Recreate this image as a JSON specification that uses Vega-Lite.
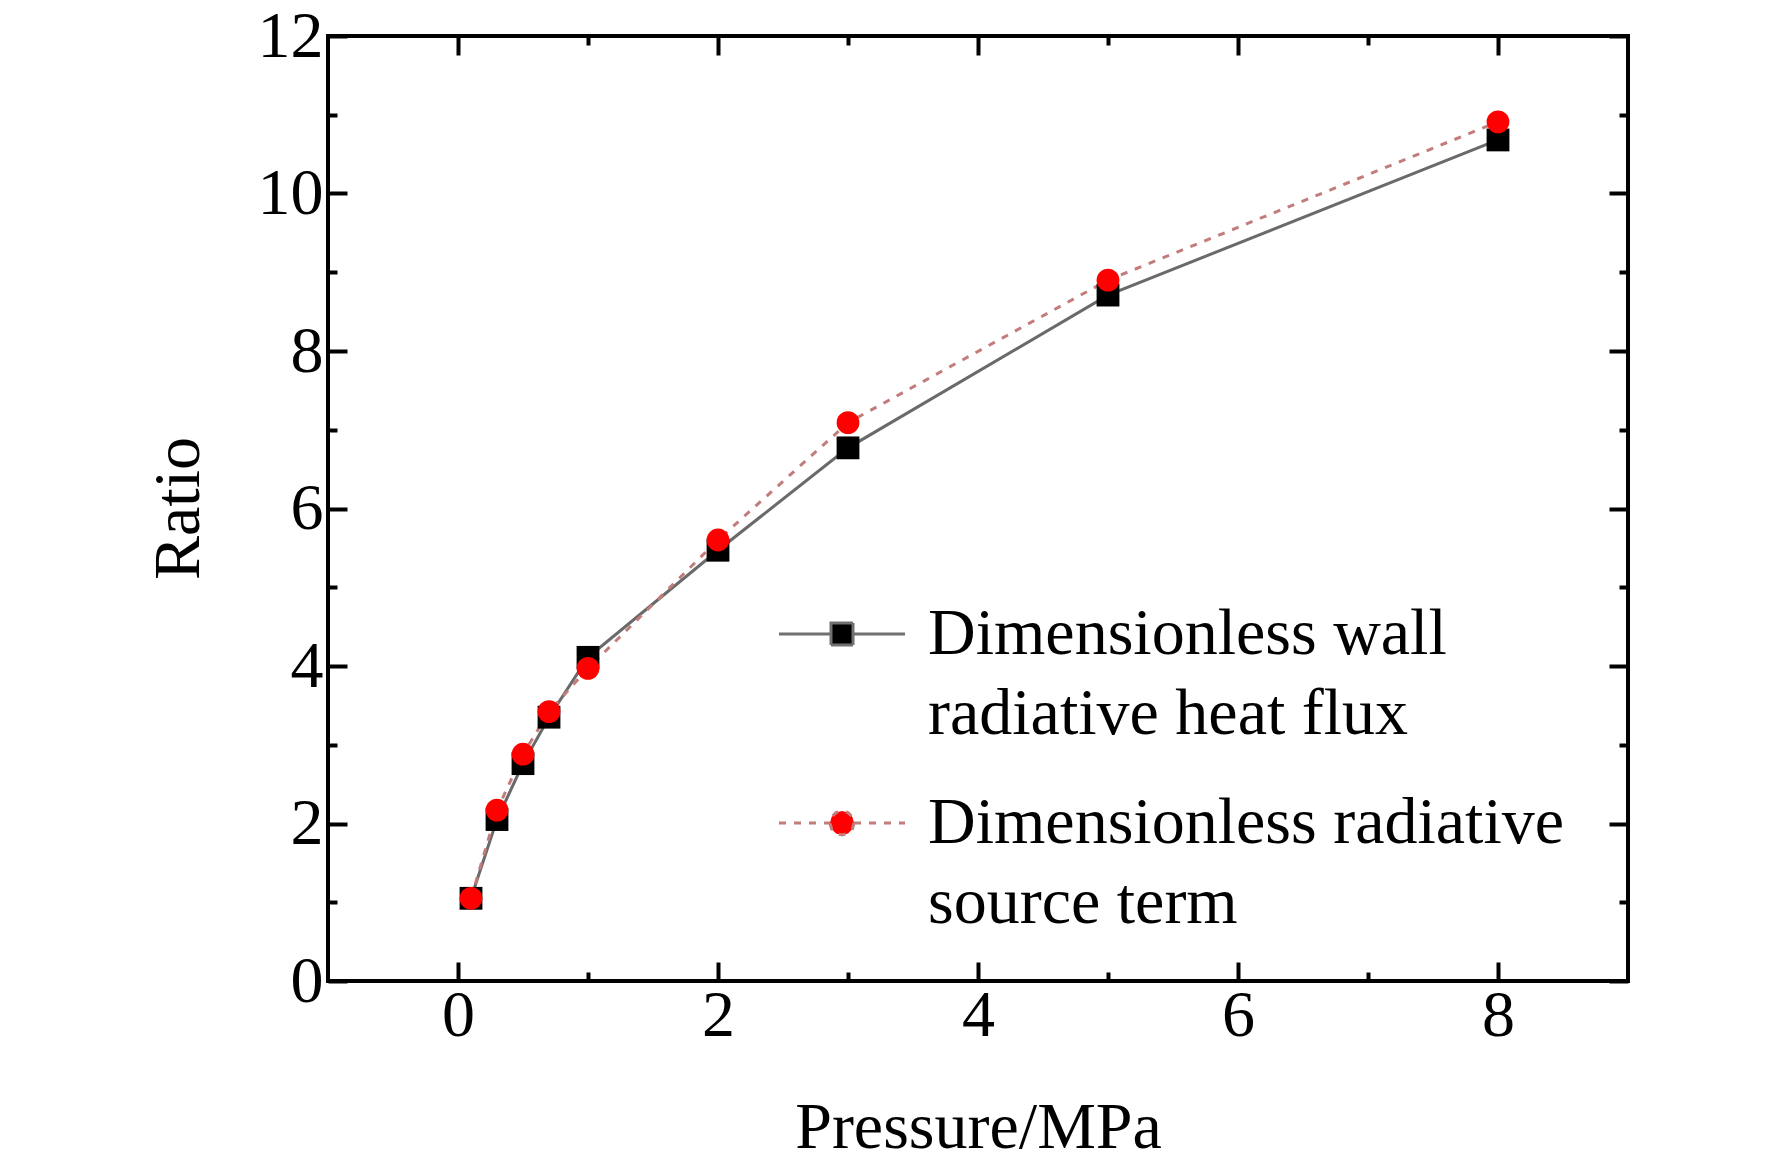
{
  "$schema": "https://vega.github.io/schema/vega-lite/v6.json",
  "width": 1300,
  "height": 945,
  "autosize": "none",
  "padding": {"left": 328, "top": 36, "right": 144, "bottom": 187},
  "background": "white",
  "data": {
    "values": [
      {"pressure": 0.1, "ratio": 1.05, "series": "Dimensionless wall radiative heat flux"},
      {"pressure": 0.3, "ratio": 2.05, "series": "Dimensionless wall radiative heat flux"},
      {"pressure": 0.5, "ratio": 2.76, "series": "Dimensionless wall radiative heat flux"},
      {"pressure": 0.7, "ratio": 3.35, "series": "Dimensionless wall radiative heat flux"},
      {"pressure": 1, "ratio": 4.11, "series": "Dimensionless wall radiative heat flux"},
      {"pressure": 2, "ratio": 5.47, "series": "Dimensionless wall radiative heat flux"},
      {"pressure": 3, "ratio": 6.77, "series": "Dimensionless wall radiative heat flux"},
      {"pressure": 5, "ratio": 8.71, "series": "Dimensionless wall radiative heat flux"},
      {"pressure": 8, "ratio": 10.68, "series": "Dimensionless wall radiative heat flux"},
      {"pressure": 0.1, "ratio": 1.05, "series": "Dimensionless radiative source term"},
      {"pressure": 0.3, "ratio": 2.17, "series": "Dimensionless radiative source term"},
      {"pressure": 0.5, "ratio": 2.88, "series": "Dimensionless radiative source term"},
      {"pressure": 0.7, "ratio": 3.42, "series": "Dimensionless radiative source term"},
      {"pressure": 1, "ratio": 3.97, "series": "Dimensionless radiative source term"},
      {"pressure": 2, "ratio": 5.6, "series": "Dimensionless radiative source term"},
      {"pressure": 3, "ratio": 7.09, "series": "Dimensionless radiative source term"},
      {"pressure": 5, "ratio": 8.9, "series": "Dimensionless radiative source term"},
      {"pressure": 8, "ratio": 10.91, "series": "Dimensionless radiative source term"}
    ]
  },
  "layer": [
    {
      "transform": [{"filter": "datum.series == 'Dimensionless wall radiative heat flux'"}],
      "mark": {"type": "line", "strokeWidth": 3, "color": "#6a6a6a"},
      "encoding": {
        "x": {
          "field": "pressure", "type": "quantitative",
          "scale": {"domain": [-1, 9], "nice": false, "zero": false},
          "axis": {
            "orient": "bottom", "values": [0, 2, 4, 6, 8], "tickSize": -19,
            "title": "Pressure/MPa", "titleX": 650, "titleY": 166, "titleBaseline": "alphabetic"
          }
        },
        "y": {
          "field": "ratio", "type": "quantitative",
          "scale": {"domain": [0, 12], "nice": false},
          "axis": {
            "orient": "left", "values": [0, 2, 4, 6, 8, 10, 12], "tickSize": -19,
            "title": "Ratio", "titleX": -130, "titleY": 472, "titleAngle": -90,
            "titleAlign": "center", "titleBaseline": "alphabetic"
          }
        }
      }
    },
    {
      "transform": [{"filter": "datum.series == 'Dimensionless radiative source term'"}],
      "mark": {"type": "line", "strokeWidth": 3, "color": "#c27c7c", "strokeDash": [7, 8]},
      "encoding": {
        "x": {
          "field": "pressure", "type": "quantitative",
          "axis": {"orient": "top", "values": [0, 2, 4, 6, 8], "tickSize": -19, "labels": false, "title": null}
        },
        "y": {
          "field": "ratio", "type": "quantitative",
          "axis": {"orient": "right", "values": [0, 2, 4, 6, 8, 10, 12], "tickSize": -19, "labels": false, "title": null}
        }
      }
    },
    {
      "mark": {"type": "point", "filled": true, "opacity": 1, "size": 520},
      "encoding": {
        "x": {
          "field": "pressure", "type": "quantitative",
          "axis": {"orient": "bottom", "values": [1, 3, 5, 7], "tickSize": -9, "labels": false, "title": null}
        },
        "y": {
          "field": "ratio", "type": "quantitative",
          "axis": {"orient": "left", "values": [1, 3, 5, 7, 9, 11], "tickSize": -9, "labels": false, "title": null}
        },
        "shape": {
          "field": "series", "type": "nominal", "legend": null,
          "scale": {
            "domain": ["Dimensionless wall radiative heat flux", "Dimensionless radiative source term"],
            "range": ["square", "circle"]
          }
        },
        "color": {
          "field": "series", "type": "nominal", "legend": null,
          "scale": {
            "domain": ["Dimensionless wall radiative heat flux", "Dimensionless radiative source term"],
            "range": ["#000000", "#ff0000"]
          }
        }
      }
    },
    {
      "mark": {"type": "point", "opacity": 0},
      "encoding": {
        "x": {
          "field": "pressure", "type": "quantitative",
          "axis": {"orient": "top", "values": [1, 3, 5, 7], "tickSize": -9, "labels": false, "title": null}
        },
        "y": {
          "field": "ratio", "type": "quantitative",
          "axis": {"orient": "right", "values": [1, 3, 5, 7, 9, 11], "tickSize": -9, "labels": false, "title": null}
        }
      }
    },
    {
      "mark": {"type": "point", "filled": true, "opacity": 0, "strokeWidth": 3},
      "encoding": {
        "x": {"field": "pressure", "type": "quantitative", "axis": null},
        "y": {"field": "ratio", "type": "quantitative", "axis": null},
        "color": {
          "field": "series", "type": "nominal",
          "legend": {
            "title": null, "orient": "none", "legendX": 451, "legendY": 565, "padding": 0,
            "rowPadding": 43, "symbolSize": 400, "symbolOffset": 30, "symbolStrokeWidth": 3, "symbolOpacity": 1,
            "labelOffset": 53, "labelFont": "Liberation Serif", "labelFontSize": 66, "labelColor": "black",
            "labelLimit": 1000, "labelBaseline": "middle",
            "labelExpr": "datum.label == 'Dimensionless wall radiative heat flux' ? ['Dimensionless wall', 'radiative heat flux'] : ['Dimensionless radiative', 'source term']"
          }
        },
        "shape": {
          "field": "series", "type": "nominal",
          "scale": {
            "domain": ["Dimensionless wall radiative heat flux", "Dimensionless radiative source term"],
            "range": [
              "M-6.3,0H-1.1M1.1,0H6.3M-1.1,-1.1H1.1V1.1H-1.1Z",
              "M-6.3,0H-1.2M1.2,0H6.3M1.2,0L1.04,0.6L0.6,1.04L0,1.2L-0.6,1.04L-1.04,0.6L-1.2,0L-1.04,-0.6L-0.6,-1.04L0,-1.2L0.6,-1.04L1.04,-0.6Z"
            ]
          },
          "legend": {
            "title": null, "orient": "none", "legendX": 451, "legendY": 565, "padding": 0,
            "rowPadding": 43, "symbolSize": 400, "symbolOffset": 30, "symbolStrokeWidth": 3, "symbolOpacity": 1,
            "labelOffset": 53, "labelFont": "Liberation Serif", "labelFontSize": 66, "labelColor": "black",
            "labelLimit": 1000, "labelBaseline": "middle",
            "labelExpr": "datum.label == 'Dimensionless wall radiative heat flux' ? ['Dimensionless wall', 'radiative heat flux'] : ['Dimensionless radiative', 'source term']"
          }
        },
        "stroke": {
          "field": "series", "type": "nominal",
          "scale": {
            "domain": ["Dimensionless wall radiative heat flux", "Dimensionless radiative source term"],
            "range": ["#707070", "#c27c7c"]
          },
          "legend": {
            "title": null, "orient": "none", "legendX": 451, "legendY": 565, "padding": 0,
            "rowPadding": 43, "symbolSize": 400, "symbolOffset": 30, "symbolStrokeWidth": 3, "symbolOpacity": 1,
            "labelOffset": 53, "labelFont": "Liberation Serif", "labelFontSize": 66, "labelColor": "black",
            "labelLimit": 1000, "labelBaseline": "middle",
            "labelExpr": "datum.label == 'Dimensionless wall radiative heat flux' ? ['Dimensionless wall', 'radiative heat flux'] : ['Dimensionless radiative', 'source term']"
          }
        },
        "strokeDash": {
          "field": "series", "type": "nominal",
          "scale": {
            "domain": ["Dimensionless wall radiative heat flux", "Dimensionless radiative source term"],
            "range": [[1, 0], [7, 8]]
          },
          "legend": {
            "title": null, "orient": "none", "legendX": 451, "legendY": 565, "padding": 0,
            "rowPadding": 43, "symbolSize": 400, "symbolOffset": 30, "symbolStrokeWidth": 3, "symbolOpacity": 1,
            "labelOffset": 53, "labelFont": "Liberation Serif", "labelFontSize": 66, "labelColor": "black",
            "labelLimit": 1000, "labelBaseline": "middle",
            "labelExpr": "datum.label == 'Dimensionless wall radiative heat flux' ? ['Dimensionless wall', 'radiative heat flux'] : ['Dimensionless radiative', 'source term']"
          }
        }
      }
    }
  ],
  "resolve": {
    "axis": {"x": "independent", "y": "independent"},
    "scale": {"shape": "independent"},
    "legend": {"color": "independent", "shape": "independent", "stroke": "independent", "strokeDash": "independent"}
  },
  "config": {
    "view": {"stroke": "black", "strokeWidth": 4},
    "style": {"guide-label": {"lineHeight": 80}},
    "axis": {
      "domain": false,
      "grid": false,
      "ticks": true,
      "tickColor": "black",
      "tickWidth": 4,
      "labelFont": "Liberation Serif",
      "labelFontSize": 66,
      "labelColor": "black",
      "labelPadding": 22,
      "titleFont": "Liberation Serif",
      "titleFontSize": 66,
      "titleFontWeight": "normal",
      "titleColor": "black"
    },
    "axisX": {"labelPadding": 21},
    "axisY": {"labelPadding": 24}
  }
}
